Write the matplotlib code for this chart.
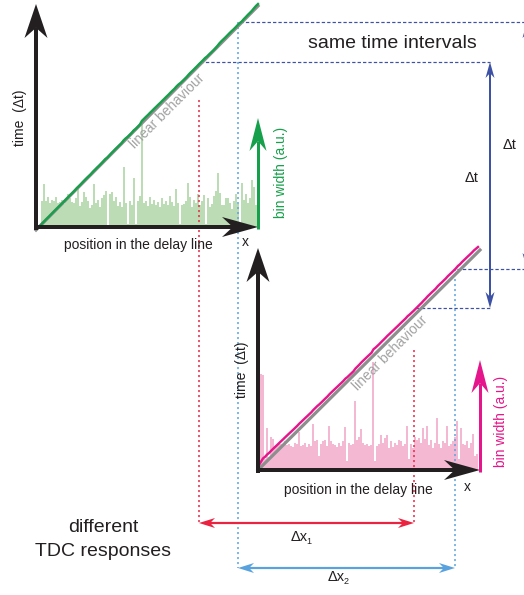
import numpy as np
import matplotlib
matplotlib.use('Agg')
import matplotlib.pyplot as plt
from matplotlib.patches import Polygon

plt.rcParams['font.family'] = ['Liberation Sans', 'DejaVu Sans']
plt.rcParams['lines.scale_dashes'] = False

# bin widths (a.u.), left to right
green_bins = [24, 39, 24, 27, 22, 25, 24, 27, 22, 23,
              25, 21, 24, 30, 26, 23, 22, 26, 37, 19,
              23, 32, 27, 24, 17, 20, 39, 22, 25, 18,
              26, 29, 33, 2, 30, 32, 24, 27, 19, 23,
              18, 55, 22, 3, 24, 20, 45, 3, 24, 28,
              94, 22, 24, 19, 27, 21, 25, 20, 23, 18,
              26, 21, 24, 20, 28, 23, 19, 35, 22, 3,
              20, 21, 24, 40, 27, 18, 25, 22, 30, 20,
              24, 29, 3, 26, 18, 21, 28, 33, 49, 31,
              20, 20, 26, 26, 22, 16, 24, 30, 21, 3,
              40, 25, 30, 22, 26, 43, 36, 20]
pink_bins = [87, 86, 10, 38, 12, 30, 28, 22, 23, 25,
             24, 22, 26, 23, 24, 22, 21, 25, 24, 35,
             22, 23, 25, 21, 24, 22, 42, 26, 27, 13,
             24, 26, 27, 22, 40, 26, 24, 23, 21, 25,
             22, 26, 39, 8, 25, 23, 24, 63, 27, 30,
             37, 25, 23, 24, 22, 23, 98, 8, 22, 24,
             32, 25, 29, 32, 20, 26, 21, 25, 23, 27,
             26, 22, 24, 40, 10, 24, 20, 30, 27, 29,
             25, 38, 28, 40, 23, 27, 20, 25, 47, 24,
             20, 26, 25, 40, 22, 24, 26, 30, 45, 10,
             38, 24, 23, 26, 20, 25, 33, 13, 15]

BLACK = '#231f20'
GREEN = '#17a04b'
LGREEN = '#bcdcb5'
PINK = '#e5168b'
LPINK = '#f4b8d3'
DBLUE = '#3d51a5'
LBLUE = '#5aa2dd'
RED = '#ea2340'
GRAY = '#8e8e8e'
PX = 0.72  # points per pixel at dpi 100


def arrow(ax, x0, y0, x1, y1, color, lw, hl, hw, notch=0.3, both=False, z=6):
    p0, p1 = np.array([x0, y0], float), np.array([x1, y1], float)
    u = (p1 - p0) / np.hypot(*(p1 - p0))
    n = np.array([-u[1], u[0]])

    def head(tip, d):
        pts = [tip, tip - d * hl + n * hw / 2, tip - d * hl * (1 - notch),
               tip - d * hl - n * hw / 2]
        ax.add_patch(Polygon(pts, closed=True, color=color, lw=0, zorder=z))
        return tip - d * hl * (1 - notch)

    end = head(p1, u)
    start = head(p0, -u) if both else p0
    ax.plot([start[0], end[0]], [start[1], end[1]], color=color,
            lw=lw * PX, solid_capstyle='butt', zorder=z)


def panel(ax, x0, base, bins, bar_c, line_c, curve_start, curve_end, gray_start, gray_end):
    h = np.array(bins, float) * 1.1
    xs = x0 + 2 * np.arange(len(h))
    ax.bar(xs, h, width=2.05, bottom=base - h, align='edge', color=bar_c,
           lw=0, zorder=1)
    # time vs position follows the cumulated bin widths (deviation damped)
    edges = np.concatenate([[x0], xs + 2])
    cum = np.concatenate([[0], np.cumsum(h)]) / h.sum()
    lin = (edges - x0) / (edges[-1] - x0)
    cum = lin + 0.3 * (cum - lin)
    cx = curve_start[0] + lin * (curve_end[0] - curve_start[0])
    cy = curve_start[1] + cum * (curve_end[1] - curve_start[1])
    ax.plot([gray_start[0], gray_end[0]], [gray_start[1], gray_end[1]],
            color=GRAY, lw=3.2 * PX, zorder=3)
    ax.plot(cx, cy, color=line_c, lw=2.4 * PX, zorder=4)


fig = plt.figure(figsize=(5.24, 5.95), dpi=100)
ax = fig.add_axes([0, 0, 1, 1])
ax.set_xlim(0, 524)
ax.set_ylim(595, 0)
ax.axis('off')

dash = (0, (2.4, 1.5))
dot = (0, (1.5, 2.1))

# guide lines
ax.plot([240, 524], [22, 22], color=DBLUE, lw=1.2 * PX, ls=dash, zorder=2)
ax.plot([200, 490], [62, 62], color=DBLUE, lw=1.2 * PX, ls=dash, zorder=2)
ax.plot([457, 524], [269, 269], color=DBLUE, lw=1.2 * PX, ls=dash, zorder=2)
ax.plot([416, 490], [308, 308], color=DBLUE, lw=1.2 * PX, ls=dash, zorder=2)
ax.plot([238, 238], [22, 568], color=LBLUE, lw=1.5 * PX, ls=dot, zorder=2.5)
ax.plot([455, 455], [269, 568], color=LBLUE, lw=1.5 * PX, ls=dot, zorder=2.5)
ax.plot([199, 199], [100, 523], color=RED, lw=1.5 * PX, ls=dot, zorder=2.5)
ax.plot([414, 414], [350, 523], color=RED, lw=1.5 * PX, ls=dot, zorder=2.5)

# top TDC
panel(ax, 41, 227, green_bins, LGREEN, GREEN, (38, 228), (258, 4), (36, 230), (258, 6))
arrow(ax, 36, 230, 36, 4, BLACK, 4, 34, 23)
arrow(ax, 34, 227, 258, 227, BLACK, 4, 36, 20)
arrow(ax, 258, 229, 258, 118, GREEN, 3, 33, 17)

# bottom TDC
panel(ax, 260, 470, pink_bins, LPINK, PINK, (259, 465), (478, 247), (258, 470), (480, 250))
arrow(ax, 258, 473, 258, 248, BLACK, 4, 34, 23)
arrow(ax, 256, 470, 480, 470, BLACK, 4, 36, 20)
arrow(ax, 480, 472, 480, 360, PINK, 3, 33, 17)

# time / position markers
arrow(ax, 490, 62, 490, 308, DBLUE, 2, 16, 9, both=True)
arrow(ax, 527, 22, 527, 269, DBLUE, 2, 16, 9, both=True)
arrow(ax, 199, 523, 414, 523, RED, 2.2, 16, 10, both=True)
arrow(ax, 238, 568, 455, 568, LBLUE, 2.2, 16, 10, both=True)

txt = dict(color=BLACK, ha='center', va='center')
ax.text(20, 118, 'time  (\u0394t)', rotation=90, fontsize=10, **txt)
ax.text(242, 370, 'time  (\u0394t)', rotation=90, fontsize=10, **txt)
ax.text(138, 245, 'position in the delay line', fontsize=10, **txt)
ax.text(358, 490, 'position in the delay line', fontsize=10, **txt)
ax.text(245, 242, 'x', fontsize=10, **txt)
ax.text(467, 487, 'x', fontsize=10, **txt)
ax.text(281, 172, 'bin width (a.u.)', rotation=90, fontsize=10,
        color=GREEN, ha='center', va='center')
ax.text(501, 421, 'bin width (a.u.)', rotation=90, fontsize=10,
        color=PINK, ha='center', va='center')
ax.text(167, 111, 'linear behaviour', rotation=45, fontsize=10,
        color='#a3a3a3', ha='center', va='center', zorder=5)
ax.text(390, 353, 'linear behaviour', rotation=45, fontsize=10,
        color='#a3a3a3', ha='center', va='center', zorder=5)
ax.text(392, 44, 'same time intervals', fontsize=14, **txt)
ax.text(472, 178, '\u0394t', fontsize=10.5, **txt)
ax.text(510, 145, '\u0394t', fontsize=10.5, **txt)
ax.text(103, 527, 'different', fontsize=14, **txt)
ax.text(103, 551, 'TDC responses', fontsize=14, **txt)
ax.text(299, 537, '\u0394x', fontsize=10.5, **txt)
ax.text(309, 542, '1', fontsize=6.5, **txt)
ax.text(336, 577, '\u0394x', fontsize=10.5, **txt)
ax.text(346, 582, '2', fontsize=6.5, **txt)

fig.savefig('out.png', dpi=100)
